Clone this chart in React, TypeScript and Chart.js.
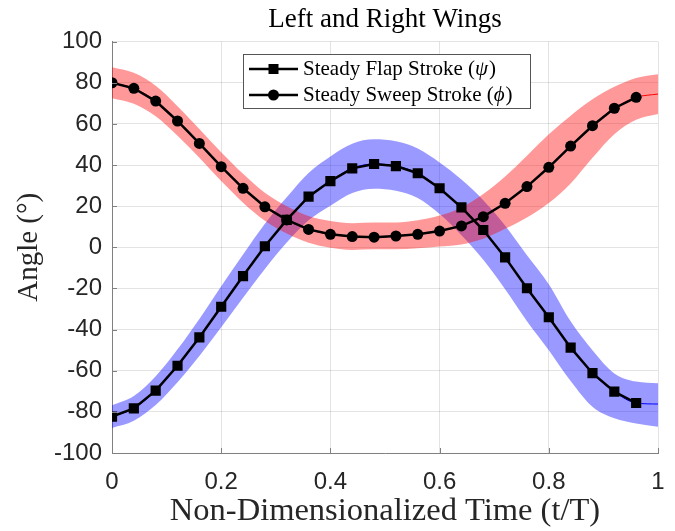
import React, { useEffect, useRef } from 'react';
import { Chart, registerables } from 'chart.js';

Chart.register(...registerables);

// ---- data ----
const TIME = [0, 0.04, 0.08, 0.12, 0.16, 0.2, 0.24, 0.28, 0.32, 0.36, 0.4, 0.44, 0.48, 0.52, 0.56, 0.6, 0.64, 0.68, 0.72, 0.76, 0.8, 0.84, 0.88, 0.92, 0.96];
const BAND_TIME = [0, 0.04, 0.08, 0.12, 0.16, 0.2, 0.24, 0.28, 0.32, 0.36, 0.4, 0.44, 0.48, 0.52, 0.56, 0.6, 0.64, 0.68, 0.72, 0.76, 0.8, 0.84, 0.88, 0.92, 0.96, 1];

const FLAP = [-82.3, -78.3, -69.7, -57.6, -43.8, -28.9, -14, 0.5, 13.3, 24.6, 32.2, 38.4, 40.5, 39.5, 36, 28.7, 19.4, 8.4, -4.9, -19.9, -34, -48.8, -61.2, -70.2, -75.7];
const SWEEP = [80, 77.3, 71.1, 61.4, 50.5, 39.2, 28.7, 19.7, 13.3, 8.7, 6.3, 5.2, 4.9, 5.5, 6.3, 7.9, 10.4, 14.9, 21.4, 29.5, 38.9, 49.2, 59.1, 67.6, 72.9];

const FLAP_MEAN = [-82.3, -78.3, -69.7, -57.6, -43.8, -28.9, -14, 0.5, 13.3, 24.6, 32.2, 38.4, 40.5, 39.5, 36, 28.7, 19.4, 8.4, -4.9, -19.9, -34, -48.8, -61.2, -70.2, -75.7, -76.2];
const SWEEP_MEAN = [80, 77.3, 71.1, 61.4, 50.5, 39.2, 28.7, 19.7, 13.3, 8.7, 6.3, 5.2, 4.9, 5.5, 6.3, 7.9, 10.4, 14.9, 21.4, 29.5, 38.9, 49.2, 59.1, 67.6, 72.9, 74.5];

const FLAP_UPPER = [-76.8, -72.3, -62.7, -49.6, -34.8, -18.9, -3.5, 11.5, 24.3, 36.1, 44.2, 50.4, 52.5, 51.5, 48, 41.2, 32.9, 22.9, 10.6, -3.9, -18, -36, -50, -61.3, -65.3, -66.1];
const FLAP_LOWER = [-87.8, -84.3, -76.7, -65.6, -52.8, -38.9, -24.5, -10.5, 2.3, 13.1, 20.2, 26.4, 28.5, 27.5, 24, 16.2, 5.9, -6.1, -20.4, -35.9, -50, -65, -77.5, -83.1, -85.6, -87.2];

const SWEEP_UPPER = [87.5, 84.8, 78.5, 68.6, 57.5, 46.2, 35.7, 26.5, 19.9, 15.2, 12.8, 11.7, 12, 12, 13.1, 15.4, 19.4, 25.9, 34.4, 44.5, 54.9, 64, 72, 78, 82.3, 84.1];
const SWEEP_LOWER = [72.5, 69.8, 63.7, 54.2, 43.5, 32.2, 21.7, 12.9, 6.7, 2.2, -0.2, -1.3, -1, -1, -0.5, 0.4, 1.4, 4.2, 9, 14.5, 21.5, 31, 43.5, 55, 62, 64.8];

const X_TICKS = [0, 0.2, 0.4, 0.6, 0.8, 1];
const Y_TICKS = [-100, -80, -60, -40, -20, 0, 20, 40, 60, 80, 100];

const TITLE = 'Left and Right Wings';
const X_TITLE = 'Non-Dimensionalized Time (t/T)';
const Y_TITLE = 'Angle (°)';
const FLAP_LABEL = ['Steady Flap Stroke (', 'ψ', ')'];
const SWEEP_LABEL = ['Steady Sweep Stroke (', 'ϕ', ')'];

const SERIF = "'Liberation Serif', 'DejaVu Serif', serif";
const SANS = "'Liberation Sans', Arial, sans-serif";

const pts = (xs: number[], ys: number[]) => xs.map((x, i) => ({ x, y: ys[i] }));

const titlePlugin = {
  id: 'centeredTitle',
  afterDraw(chart: any) {
    const ctx = chart.ctx;
    const { left, right } = chart.chartArea;
    ctx.save();
    ctx.font = '27px ' + SERIF;
    ctx.fillStyle = '#000';
    ctx.textAlign = 'center';
    ctx.textBaseline = 'middle';
    ctx.fillText(TITLE, (left + right) / 2, 20);
    ctx.restore();
  },
};

const legendPlugin = {
  id: 'matlabLegend',
  afterDatasetsDraw(chart: any) {
    const ctx = chart.ctx;
    const bx = 243.5, by = 54.5, bw = 287, bh = 54;
    ctx.save();
    ctx.fillStyle = '#ffffff';
    ctx.fillRect(bx, by, bw, bh);
    ctx.strokeStyle = '#555555';
    ctx.lineWidth = 1;
    ctx.strokeRect(bx, by, bw, bh);
    const rows = [
      { y: 69, parts: FLAP_LABEL, marker: 'square' },
      { y: 95, parts: SWEEP_LABEL, marker: 'circle' },
    ];
    for (const r of rows) {
      ctx.strokeStyle = '#000';
      ctx.lineWidth = 2.5;
      ctx.beginPath();
      ctx.moveTo(249, r.y);
      ctx.lineTo(298, r.y);
      ctx.stroke();
      ctx.fillStyle = '#000';
      if (r.marker === 'square') {
        ctx.fillRect(273.5 - 5, r.y - 5, 10, 10);
      } else {
        ctx.beginPath();
        ctx.arc(273.5, r.y, 5.5, 0, Math.PI * 2);
        ctx.fill();
      }
      let x = 303;
      ctx.textBaseline = 'middle';
      ctx.textAlign = 'left';
      r.parts.forEach((p, i) => {
        ctx.font = (i === 1 ? 'italic ' : '') + '21px ' + SERIF;
        ctx.fillText(p, x, r.y);
        x += ctx.measureText(p).width + (i === 1 ? 1 : 0);
      });
    }
    ctx.restore();
  },
};

const innerTicksPlugin = {
  id: 'innerTicks',
  afterDraw(chart: any) {
    const ctx = chart.ctx;
    const xs = chart.scales.x;
    const ys = chart.scales.y;
    const { left, bottom } = chart.chartArea;
    ctx.save();
    ctx.strokeStyle = '#808080';
    ctx.lineWidth = 1;
    ctx.beginPath();
    Y_TICKS.forEach((v) => {
      const y = Math.round(ys.getPixelForValue(v)) + 0.5;
      ctx.moveTo(left, y);
      ctx.lineTo(left + 5, y);
    });
    X_TICKS.forEach((v) => {
      const x = Math.round(xs.getPixelForValue(v)) + 0.5;
      ctx.moveTo(x, bottom);
      ctx.lineTo(x, bottom - 5);
    });
    ctx.stroke();
    ctx.restore();
  },
};

export default function App() {
  const ref = useRef<HTMLCanvasElement>(null);
  useEffect(() => {
    if (!ref.current) return;
    const band = (data: any[], extra: any) => ({
      data,
      borderWidth: 0,
      borderColor: 'rgba(0,0,0,0)',
      pointRadius: 0,
      cubicInterpolationMode: 'monotone',
      ...extra,
    });
    const chart = new Chart(ref.current, {
      type: 'line',
      data: {
        datasets: [
          band(pts(BAND_TIME, FLAP_LOWER), { label: 'flapLower', fill: false, order: 5 }),
          band(pts(BAND_TIME, FLAP_UPPER), { label: 'flapUpper', fill: '-1', backgroundColor: 'rgba(0,0,255,0.4)', order: 4 }),
          band(pts(BAND_TIME, SWEEP_LOWER), { label: 'sweepLower', fill: false, order: 3 }),
          band(pts(BAND_TIME, SWEEP_UPPER), { label: 'sweepUpper', fill: '-1', backgroundColor: 'rgba(255,0,0,0.4)', order: 2 }),
          {
            label: 'sweepMean', data: pts(BAND_TIME, SWEEP_MEAN), borderColor: '#ff0000', borderWidth: 1,
            pointRadius: 0, fill: false, cubicInterpolationMode: 'monotone', order: 1,
          },
          {
            label: 'flapMean', data: pts(BAND_TIME, FLAP_MEAN), borderColor: '#0000ff', borderWidth: 1,
            pointRadius: 0, fill: false, cubicInterpolationMode: 'monotone', order: 1,
          },
          {
            label: FLAP_LABEL.join(''), data: pts(TIME, FLAP), borderColor: '#000', borderWidth: 2.5,
            pointStyle: 'rect', pointRadius: 7.2, pointBackgroundColor: '#000', pointBorderColor: '#000',
            pointBorderWidth: 0, fill: false, tension: 0, order: 0,
          },
          {
            label: SWEEP_LABEL.join(''), data: pts(TIME, SWEEP), borderColor: '#000', borderWidth: 2.5,
            pointStyle: 'circle', pointRadius: 5.5, pointBackgroundColor: '#000', pointBorderColor: '#000',
            pointBorderWidth: 0, fill: false, tension: 0, order: 0,
          },
        ] as any,
      },
      options: {
        responsive: false,
        devicePixelRatio: 1,
        animation: false,
        layout: { padding: { left: 0, right: 17, top: 41.6, bottom: 0 } },
        plugins: {
          legend: { display: false },
          tooltip: { enabled: false },
          title: { display: false },
        },
        scales: {
          x: {
            type: 'linear',
            min: 0,
            max: 1,
            afterFit: (s: any) => { s.height = 78; s.paddingLeft = 0; s.paddingRight = 0; },
            afterBuildTicks: (s: any) => { s.ticks = X_TICKS.map((v) => ({ value: v })); },
            ticks: {
              color: '#262626',
              font: { family: SANS, size: 24 },
              padding: 15,
              maxRotation: 0,
              callback: (v: any) => String(v),
            },
            grid: { color: 'rgba(38,38,38,0.13)', drawTicks: false, lineWidth: 1 },
            border: { display: true, color: '#808080', width: 1 },
            title: {
              display: true,
              text: X_TITLE,
              color: '#262626',
              font: { family: SERIF, size: 32.5 },
              padding: { top: 0, bottom: 0 },
            },
          },
          y: {
            type: 'linear',
            min: -100,
            max: 100,
            afterFit: (s: any) => { s.width = 112; s.paddingTop = 0; s.paddingBottom = 0; },
            afterBuildTicks: (s: any) => { s.ticks = Y_TICKS.map((v) => ({ value: v })); },
            ticks: {
              color: '#262626',
              font: { family: SANS, size: 24 },
              padding: 10,
              callback: (v: any) => String(v),
            },
            grid: { color: 'rgba(38,38,38,0.13)', drawTicks: false, lineWidth: 1 },
            border: { display: true, color: '#808080', width: 1 },
            title: {
              display: true,
              text: Y_TITLE,
              color: '#262626',
              font: { family: SERIF, size: 29 },
              padding: { top: 12, bottom: 0 },
            },
          },
        },
      } as any,
      plugins: [legendPlugin, innerTicksPlugin, titlePlugin],
    });
    return () => chart.destroy();
  }, []);
  return (
    <div style={{ position: 'absolute', left: 0, top: 0, width: 675, height: 531, background: '#fff' }}>
      <canvas ref={ref} width={675} height={531} style={{ display: 'block', width: 675, height: 531 }} />
    </div>
  );
}
